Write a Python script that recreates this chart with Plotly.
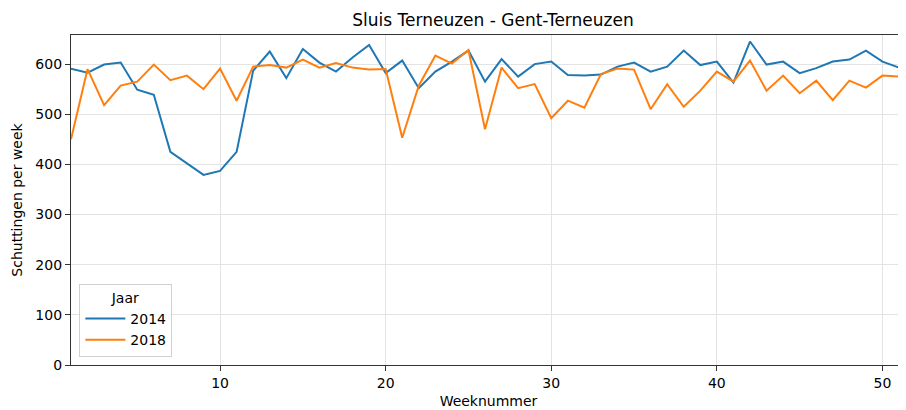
import plotly.graph_objects as go

weeks = list(range(1, 53))
y2014 = [591, 583, 599, 603, 549, 539, 425, 402, 379, 387,
         425, 587, 625, 572, 630, 603, 585, 613, 638, 582,
         607, 552, 585, 605, 627, 565, 610, 575, 600, 605,
         578, 577, 579, 595, 603, 585, 595, 627, 598, 605,
         563, 645, 599, 605, 582, 592, 605, 609, 627, 605,
         593, 465]
y2018 = [450, 590, 518, 557, 565, 599, 568, 577, 550, 591,
         527, 595, 598, 593, 609, 593, 602, 593, 589, 590,
         453, 557, 617, 601, 628, 470, 593, 552, 560, 492,
         527, 513, 580, 591, 589, 510, 560, 515, 547, 585,
         565, 607, 547, 577, 542, 567, 528, 567, 553, 577,
         575, 430]
x_ticks = [10, 20, 30, 40, 50]
y_ticks = [0, 100, 200, 300, 400, 500, 600]

font = "DejaVu Sans, Liberation Sans, sans-serif"
W, H = 898, 402

fig = go.Figure()
fig.add_trace(go.Scatter(x=weeks, y=y2014, mode="lines", name="2014",
                         line=dict(color="#1f77b4", width=2)))
fig.add_trace(go.Scatter(x=weeks, y=y2018, mode="lines", name="2018",
                         line=dict(color="#ff7f0e", width=2)))

fig.update_layout(
    width=W, height=H,
    margin=dict(l=63, r=0, t=27, b=45, autoexpand=False),
    paper_bgcolor="white", plot_bgcolor="white",
    font=dict(family=font, size=14, color="#000000"),
    title=dict(text="Sluis Terneuzen - Gent-Terneuzen", x=485 / W, xref="container",
               xanchor="center", y=1 - 12.5 / H, yref="container", yanchor="middle",
               font=dict(size=17, color="#000000")),
    showlegend=True,
    legend=dict(title=dict(text="Jaar", side="top center", font=dict(size=14)),
                x=0.01, y=0.025, xanchor="left", yanchor="bottom",
                bgcolor="rgba(255,255,255,0.8)", bordercolor="#d0d0d0", borderwidth=1,
                font=dict(size=14), tracegroupgap=0, itemwidth=40),
    xaxis=dict(range=[1, 51.42], tickvals=x_ticks, showgrid=True, gridcolor="#e3e3e3",
               gridwidth=1, showline=True, linecolor="#333333", linewidth=1.2,
               mirror=True, ticks="outside", ticklen=5, tickcolor="#333333",
               zeroline=False, automargin=False,
               title=dict(text="Weeknummer", font=dict(size=14), standoff=6)),
    yaxis=dict(range=[0, 658], tickvals=y_ticks, showgrid=True, gridcolor="#e3e3e3",
               gridwidth=1, showline=True, linecolor="#333333", linewidth=1.2,
               ticks="outside", ticklen=5, tickcolor="#333333", zeroline=False,
               automargin=False,
               title=dict(text="Schuttingen per week", font=dict(size=14), standoff=9)),
)

fig.write_html("out.html")
